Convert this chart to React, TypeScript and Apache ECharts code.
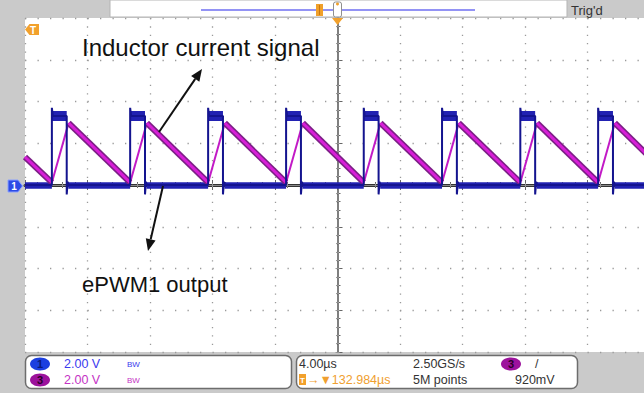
import React, { useEffect, useRef } from "react";
import * as echarts from "echarts";

// ---- Data read from the scope capture (time in µs, voltage in V) ----
const timeMin = -20;
const timeMax = 20;
const timePerDiv = 4; // 4.00 µs/div
const voltMin = -8;
const voltMax = 8;
const voltPerDiv = 2; // 2.00 V/div

// ePWM1 output (CH1, blue): rising / falling edge times
const pwmRise = [-18.28, -13.27, -8.28, -3.29, 1.68, 6.69, 11.7, 16.68];
const pwmFall = [-17.33, -12.32, -7.33, -2.34, 2.63, 7.64, 12.65, 17.63];
const pwmHigh = 3.3;
const pwmLow = 0.0;
const pwmOvershoot = 3.7;
const pwmUndershoot = -0.45;

// Inductor current signal (CH3, magenta): vertices of the triangle wave
const inductorT = [-20, -18.28, -17.21, -13.27, -12.2, -8.28, -7.21, -3.29, -2.22, 1.68, 2.75, 6.69, 7.76, 11.7, 12.77, 16.68, 17.75, 20];
const inductorV = [1.34, 0.12, 2.97, 0.12, 2.97, 0.12, 2.97, 0.12, 2.97, 0.12, 2.97, 0.12, 2.97, 0.12, 2.97, 0.12, 2.97, 1.32];

// Status read-outs
const ch1Scale = "2.00 V";
const ch3Scale = "2.00 V";
const timeScale = "4.00µs";
const sampleRate = "2.50GS/s";
const triggerPos = "→▼132.984µs";
const recordLength = "5M points";
const triggerLevel = "920mV";

const FONT = "Liberation Sans, Arial, sans-serif";

function buildPwmLine(): number[][] {
  const pts: number[][] = [[timeMin, pwmLow]];
  for (let i = 0; i < pwmRise.length; i++) {
    pts.push([pwmRise[i], pwmLow]);
    pts.push([pwmRise[i], pwmOvershoot]);
    pts.push([pwmRise[i] + 0.06, pwmHigh]);
    pts.push([pwmFall[i], pwmHigh]);
    pts.push([pwmFall[i], pwmUndershoot]);
    pts.push([pwmFall[i] + 0.06, pwmLow + 0.15]);
    pts.push([pwmFall[i] + 0.12, pwmLow]);
  }
  pts.push([timeMax, pwmLow]);
  return pts;
}

function pwmLowSegments() {
  const segs: any[] = [];
  segs.push({ coords: [[timeMin, pwmLow], [pwmRise[0], pwmLow]] });
  for (let i = 0; i < pwmFall.length; i++) {
    const end = i + 1 < pwmRise.length ? pwmRise[i + 1] : timeMax;
    segs.push({ coords: [[pwmFall[i] + 0.1, pwmLow], [end, pwmLow]] });
  }
  return segs;
}

function pwmHighSegments() {
  return pwmRise.map((r, i) => ({ coords: [[r, pwmHigh], [pwmFall[i], pwmHigh]] }));
}

function inductorSegments(rising: boolean) {
  const segs: any[] = [];
  for (let i = 0; i < inductorT.length - 1; i++) {
    const up = inductorV[i + 1] > inductorV[i];
    if (up === rising) {
      segs.push({ coords: [[inductorT[i], inductorV[i]], [inductorT[i + 1], inductorV[i + 1]]] });
    }
  }
  return segs;
}

function xAxisBase(extra: any) {
  return {
    type: "value",
    min: timeMin,
    max: timeMax,
    interval: timePerDiv,
    axisLabel: { show: false },
    splitLine: { show: false },
    ...extra,
  };
}
function yAxisBase(extra: any) {
  return {
    type: "value",
    min: voltMin,
    max: voltMax,
    interval: voltPerDiv,
    axisLabel: { show: false },
    splitLine: { show: false },
    ...extra,
  };
}

export default function App() {
  const ref = useRef<HTMLDivElement>(null);

  useEffect(() => {
    if (!ref.current) return;
    const chart = echarts.init(ref.current, null, { renderer: "svg" });

    const tickStyle = { color: "#666", width: 1 };
    const centerTick = { color: "#9a9a9a", width: 1 };
    const arrow1 = { tail: [159, 132], tip: [202, 69] };
    const arrow2 = { tail: [163, 186], tip: [148, 251] };
    const arrowHead = (tail: number[], tip: number[]) => {
      const dx = tip[0] - tail[0];
      const dy = tip[1] - tail[1];
      const len = Math.sqrt(dx * dx + dy * dy);
      const ux = dx / len, uy = dy / len;
      const bx = tip[0] - 12 * ux, by = tip[1] - 12 * uy;
      const nx = -uy, ny = ux;
      return {
        base: [bx, by],
        pts: [tip, [bx + 5 * nx, by + 5 * ny], [bx - 5 * nx, by - 5 * ny]],
      };
    };
    const h1 = arrowHead(arrow1.tail, arrow1.tip);
    const h2 = arrowHead(arrow2.tail, arrow2.tip);

    const option: any = {
      animation: false,
      backgroundColor: "#cacaca",
      grid: {
        left: 25,
        top: 18,
        width: 625,
        height: 334,
        show: true,
        backgroundColor: "#ffffff",
        borderWidth: 0,
      },
      xAxis: [
        xAxisBase({
          position: "bottom",
          axisLine: { show: true, lineStyle: { color: "#333", width: 3 } },
          axisTick: { show: true, inside: true, length: 5, lineStyle: tickStyle },
          minorTick: { show: true, splitNumber: 5, length: 3, lineStyle: tickStyle },
          splitLine: { show: true, lineStyle: { color: "#9a9a9a", width: 1.3, type: [1.3, 7.05] } },
        }),
        xAxisBase({
          position: "top",
          axisLine: { show: true, lineStyle: { color: "#888", width: 1 } },
          axisTick: { show: true, inside: true, length: 5, lineStyle: tickStyle },
          minorTick: { show: true, splitNumber: 5, length: 3, lineStyle: tickStyle },
        }),
        xAxisBase({
          position: "bottom",
          offset: -167,
          axisLine: { show: false },
          axisTick: { show: true, inside: true, length: 2, lineStyle: centerTick },
          minorTick: { show: true, splitNumber: 5, length: 1.5, lineStyle: centerTick },
        }),
        xAxisBase({
          position: "top",
          offset: -167,
          axisLine: { show: false },
          axisTick: { show: true, inside: true, length: 2, lineStyle: centerTick },
          minorTick: { show: true, splitNumber: 5, length: 1.5, lineStyle: centerTick },
        }),
      ],
      yAxis: [
        yAxisBase({
          position: "left",
          axisLine: { show: true, lineStyle: { color: "#555", width: 1.5 } },
          axisTick: { show: true, inside: true, length: 5, lineStyle: tickStyle },
          minorTick: { show: true, splitNumber: 5, length: 3, lineStyle: tickStyle },
          splitLine: { show: true, lineStyle: { color: "#9a9a9a", width: 1.3, type: [1.3, 11.2] } },
        }),
        yAxisBase({
          position: "left",
          offset: -312.5,
          axisLine: { show: false },
          axisTick: { show: true, inside: true, length: 2, lineStyle: centerTick },
          minorTick: { show: true, splitNumber: 5, length: 1.5, lineStyle: centerTick },
        }),
        yAxisBase({
          position: "right",
          offset: -312.5,
          axisLine: { show: false },
          axisTick: { show: true, inside: true, length: 2, lineStyle: centerTick },
          minorTick: { show: true, splitNumber: 5, length: 1.5, lineStyle: centerTick },
        }),
      ],
      series: [
        {
          name: "ePWM1 low band",
          type: "lines",
          coordinateSystem: "cartesian2d",
          xAxisIndex: 0,
          yAxisIndex: 0,
          silent: true,
          lineStyle: { color: "#2222b2", width: 6.5, opacity: 1, cap: "butt" },
          data: pwmLowSegments(),
        },
        {
          name: "ePWM1 high band",
          type: "lines",
          coordinateSystem: "cartesian2d",
          xAxisIndex: 0,
          yAxisIndex: 0,
          silent: true,
          lineStyle: { color: "#2222b2", width: 10, opacity: 1, cap: "butt" },
          data: pwmHighSegments(),
        },
        {
          name: "ePWM1 output",
          type: "line",
          xAxisIndex: 0,
          yAxisIndex: 0,
          showSymbol: false,
          silent: true,
          lineStyle: { color: "#14148f", width: 2 },
          data: buildPwmLine(),
        },
        {
          name: "Inductor rising",
          type: "lines",
          coordinateSystem: "cartesian2d",
          xAxisIndex: 0,
          yAxisIndex: 0,
          silent: true,
          lineStyle: { color: "#c21ac6", width: 2, opacity: 1 },
          data: inductorSegments(true),
        },
        {
          name: "Inductor falling outer",
          type: "lines",
          coordinateSystem: "cartesian2d",
          xAxisIndex: 0,
          yAxisIndex: 0,
          silent: true,
          lineStyle: { color: "#7c1f86", width: 6, opacity: 1 },
          data: inductorSegments(false),
        },
        {
          name: "Inductor falling inner",
          type: "lines",
          coordinateSystem: "cartesian2d",
          xAxisIndex: 0,
          yAxisIndex: 0,
          silent: true,
          lineStyle: { color: "#d81ed8", width: 3, opacity: 1 },
          data: inductorSegments(false),
        },
      ],
      graphic: [
        // top bar
        { type: "rect", shape: { x: 110, y: 0, width: 457, height: 17 }, style: { fill: "#fff", stroke: "#b5b5b5", lineWidth: 1 }, z: 10 },
        { type: "line", shape: { x1: 201, y1: 10, x2: 475, y2: 10 }, style: { stroke: "#6f6ff2", lineWidth: 1.5 }, z: 11 },
        { type: "rect", shape: { x: 316, y: 4, width: 7, height: 12 }, style: { fill: "#f0a02a" }, z: 12 },
        { type: "line", shape: { x1: 319.5, y1: 5, x2: 319.5, y2: 15 }, style: { stroke: "#c87810", lineWidth: 1 }, z: 13 },
        { type: "rect", shape: { x: 333.5, y: 2, width: 8, height: 15, r: 2 }, style: { fill: "#fff", stroke: "#8f8f8f", lineWidth: 1 }, z: 12 },
        { type: "circle", shape: { cx: 337.5, cy: 4, r: 1.5 }, style: { fill: "#f0a02a" }, z: 13 },
        { type: "text", x: 571, y: 10, style: { text: "Trig'd", font: `13px ${FONT}`, fill: "#333", textVerticalAlign: "middle" }, z: 12 },
        // trigger position marker on top of graticule
        { type: "polygon", shape: { points: [[332, 18], [343, 18], [337.5, 25]] }, style: { fill: "#f2a12c" }, z: 20 },
        // trigger level marker (left)
        { type: "polygon", shape: { points: [[25, 29.5], [29.5, 24], [39, 24], [39, 35], [29.5, 35]] }, style: { fill: "#f2a12c" }, z: 20 },
        { type: "text", x: 33, y: 30, style: { text: "T", font: `bold 10px ${FONT}`, fill: "#fff", textAlign: "center", textVerticalAlign: "middle" }, z: 21 },
        // CH1 ground marker
        { type: "polygon", shape: { points: [[8, 180], [18, 180], [22.5, 186], [18, 192], [8, 192]] }, style: { fill: "#2d4be6", stroke: "#8aa0ff", lineWidth: 1 }, z: 20 },
        { type: "text", x: 14, y: 186, style: { text: "1", font: `bold 10px ${FONT}`, fill: "#fff", textAlign: "center", textVerticalAlign: "middle" }, z: 21 },
        // annotations
        { type: "text", x: 82, y: 47, style: { text: "Inductor current signal", font: `24px ${FONT}`, fill: "#111", textVerticalAlign: "middle" }, z: 30 },
        { type: "text", x: 82, y: 284, style: { text: "ePWM1 output", font: `22px ${FONT}`, fill: "#111", textVerticalAlign: "middle" }, z: 30 },
        { type: "line", shape: { x1: arrow1.tail[0], y1: arrow1.tail[1], x2: h1.base[0], y2: h1.base[1] }, style: { stroke: "#111", lineWidth: 2 }, z: 30 },
        { type: "polygon", shape: { points: h1.pts }, style: { fill: "#111" }, z: 30 },
        { type: "line", shape: { x1: arrow2.tail[0], y1: arrow2.tail[1], x2: h2.base[0], y2: h2.base[1] }, style: { stroke: "#111", lineWidth: 2 }, z: 30 },
        { type: "polygon", shape: { points: h2.pts }, style: { fill: "#111" }, z: 30 },
        // status bar boxes
        { type: "rect", shape: { x: 25.5, y: 355.5, width: 266, height: 33, r: 6 }, style: { fill: "#fff", stroke: "#6d6d6d", lineWidth: 1.5 }, z: 10 },
        { type: "rect", shape: { x: 296.5, y: 355.5, width: 281, height: 33, r: 6 }, style: { fill: "#fff", stroke: "#6d6d6d", lineWidth: 1.5 }, z: 10 },
        // box 1
        { type: "ellipse", shape: { cx: 40, cy: 364, rx: 10, ry: 6.5 }, style: { fill: "#1c3fe0" }, z: 11 },
        { type: "text", x: 40, y: 364, style: { text: "1", font: `bold 11px ${FONT}`, fill: "#0a1a7a", textAlign: "center", textVerticalAlign: "middle" }, z: 12 },
        { type: "text", x: 64, y: 364, style: { text: ch1Scale, font: `12.5px ${FONT}`, fill: "#3a3aee", textVerticalAlign: "middle" }, z: 11 },
        { type: "text", x: 127, y: 364, style: { text: "BW", font: `8px ${FONT}`, fill: "#3a3aee", textVerticalAlign: "middle" }, z: 11 },
        { type: "ellipse", shape: { cx: 40, cy: 380, rx: 10, ry: 6.5 }, style: { fill: "#9c129c" }, z: 11 },
        { type: "text", x: 40, y: 380, style: { text: "3", font: `bold 11px ${FONT}`, fill: "#2a002a", textAlign: "center", textVerticalAlign: "middle" }, z: 12 },
        { type: "text", x: 64, y: 380, style: { text: ch3Scale, font: `12.5px ${FONT}`, fill: "#c432c4", textVerticalAlign: "middle" }, z: 11 },
        { type: "text", x: 127, y: 380, style: { text: "BW", font: `8px ${FONT}`, fill: "#c432c4", textVerticalAlign: "middle" }, z: 11 },
        // box 2
        { type: "text", x: 299, y: 364, style: { text: timeScale, font: `12.5px ${FONT}`, fill: "#333", textVerticalAlign: "middle" }, z: 11 },
        { type: "text", x: 413, y: 364, style: { text: sampleRate, font: `12.5px ${FONT}`, fill: "#333", textVerticalAlign: "middle" }, z: 11 },
        { type: "ellipse", shape: { cx: 511, cy: 364, rx: 10, ry: 6.5 }, style: { fill: "#9c129c" }, z: 11 },
        { type: "text", x: 511, y: 364, style: { text: "3", font: `bold 11px ${FONT}`, fill: "#2a002a", textAlign: "center", textVerticalAlign: "middle" }, z: 12 },
        { type: "text", x: 535, y: 364, style: { text: "/", font: `12.5px ${FONT}`, fill: "#333", textVerticalAlign: "middle" }, z: 11 },
        { type: "rect", shape: { x: 299, y: 374, width: 7, height: 11 }, style: { fill: "#f2a12c" }, z: 11 },
        { type: "text", x: 302.5, y: 380, style: { text: "T", font: `bold 8px ${FONT}`, fill: "#fff", textAlign: "center", textVerticalAlign: "middle" }, z: 12 },
        { type: "text", x: 307, y: 380, style: { text: triggerPos, font: `12.5px ${FONT}`, fill: "#f0a030", textVerticalAlign: "middle" }, z: 11 },
        { type: "text", x: 413, y: 380, style: { text: recordLength, font: `12.5px ${FONT}`, fill: "#333", textVerticalAlign: "middle" }, z: 11 },
        { type: "text", x: 515, y: 380, style: { text: triggerLevel, font: `12.5px ${FONT}`, fill: "#333", textVerticalAlign: "middle" }, z: 11 },
      ],
    };

    chart.setOption(option);
    return () => chart.dispose();
  }, []);

  return (
    <div style={{ position: "fixed", left: 0, top: 0, width: 644, height: 393, overflow: "hidden", background: "#cacaca" }}>
      <div ref={ref} style={{ width: 652, height: 393 }} />
    </div>
  );
}
